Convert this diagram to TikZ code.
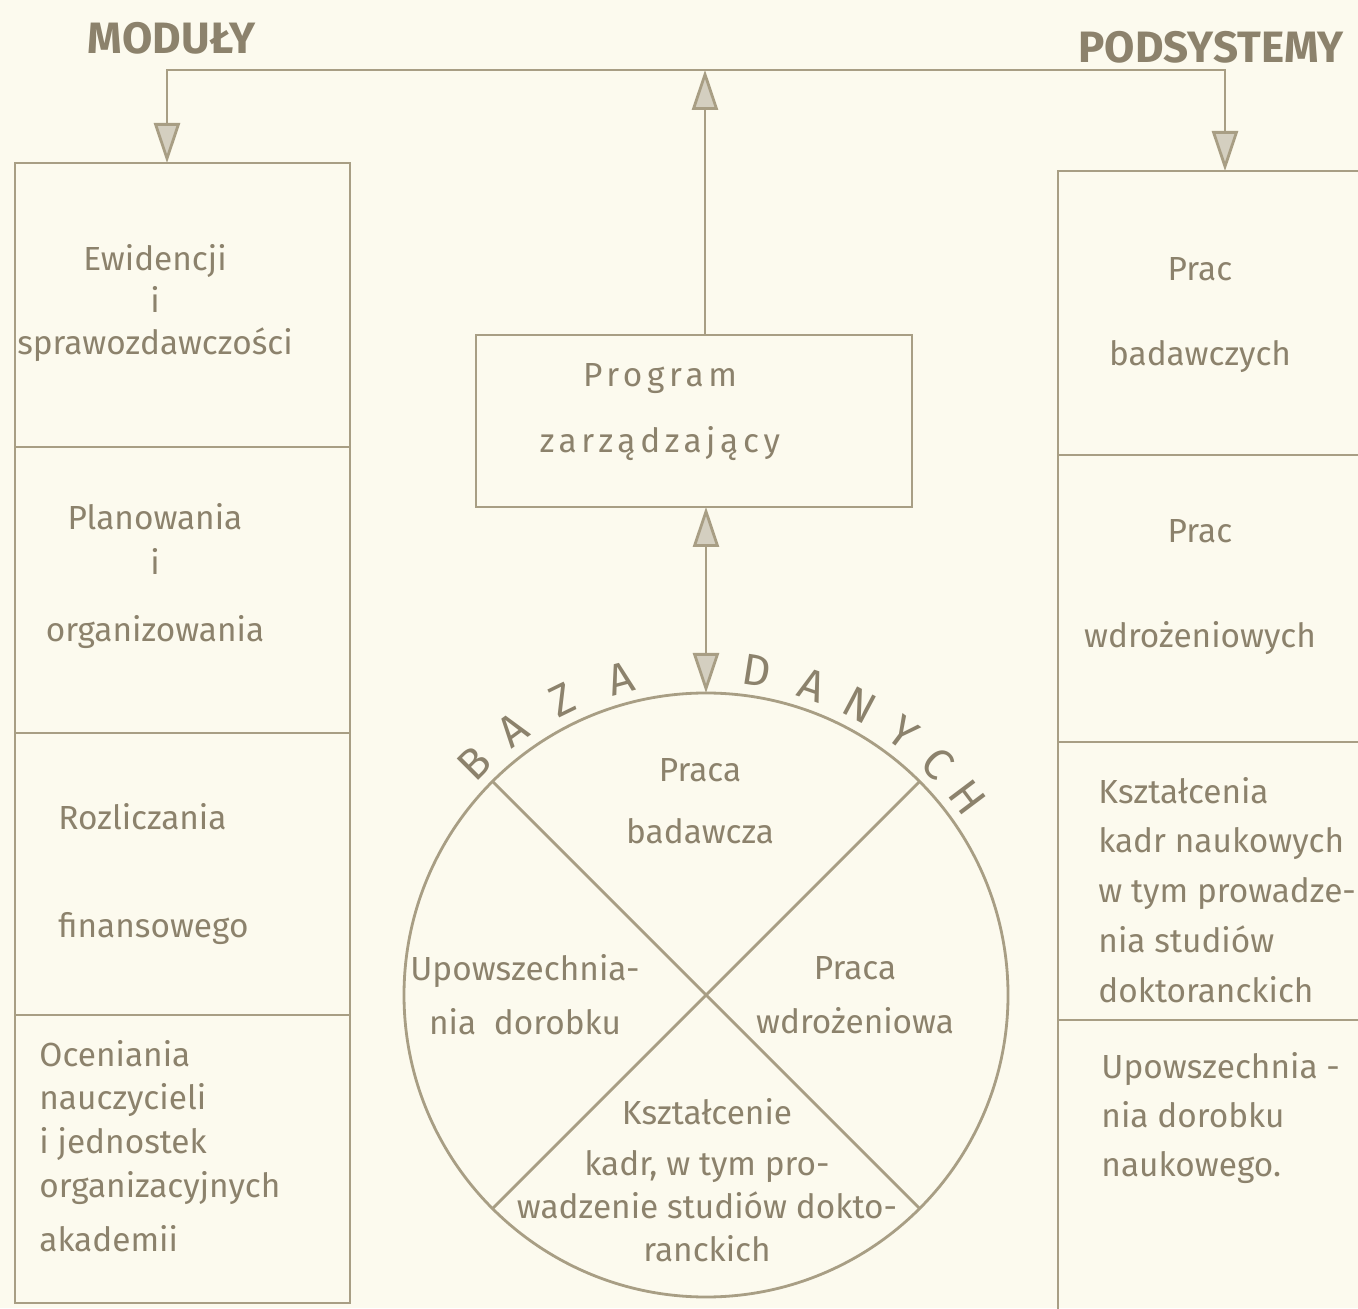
\documentclass[tikz,border=0pt]{standalone}
\usepackage{fontspec}
\setmainfont{Fira Sans}
\usetikzlibrary{arrows.meta,positioning}
\definecolor{papercolor}{RGB}{252,250,238}
\definecolor{linecolor}{RGB}{168,158,132}
\definecolor{inkcolor}{RGB}{140,130,108}
\definecolor{tipcolor}{RGB}{212,207,192}

\begin{document}
\begin{tikzpicture}[font=\fontsize{9.5}{12}\selectfont, text=inkcolor,
    >={Triangle[length=4mm,width=2.6mm,fill=tipcolor]},
    conn/.style={draw=linecolor, line width=0.8pt},
    box/.style={conn, rectangle, inner sep=0pt, outer sep=0pt},
    heading/.style={font=\fontsize{12.5}{14}\selectfont\bfseries},
    arcletter/.style={font=\fontsize{12.5}{14}\selectfont, inner sep=0pt}]
  \fill[papercolor] (0,0) rectangle (13.58,13.08);
  \useasboundingbox (0,0) rectangle (13.58,13.08);

  % naglowki
  \node[heading] (hMod) at (1.72,12.70) {MODUŁY};
  \node[heading] (hPod) at (12.11,12.61) {PODSYSTEMY};

  % moduly (lewa kolumna)
  \node[box, anchor=north west, minimum width=3.35cm, minimum height=2.84cm] (ewid) at (0.15,11.45) {};
  \node[box, below=0pt of ewid, minimum width=3.35cm, minimum height=2.86cm] (plan) {};
  \node[box, below=0pt of plan, minimum width=3.35cm, minimum height=2.82cm] (rozl) {};
  \node[box, below=0pt of rozl, minimum width=3.35cm, minimum height=2.88cm] (ocen) {};

  \node[align=center] (tEwid) at (1.55,10.05) {Ewidencji\\ i\\ sprawozdawczości};
  \node[align=center] (tPlan) at (1.55,7.32) {Planowania\\[1pt] i\\[7pt] organizowania};
  \node[align=left, anchor=west] (tRozl) at (0.46,4.34) {Rozliczania\\[18.6pt] finansowego};
  \node[align=left, anchor=west, font=\fontsize{9.5}{12.4}\selectfont] (tOcen) at (0.27,1.62)
    {Oceniania\\ nauczycieli\\ i jednostek\\ organizacyjnych\\[3pt] akademii};

  % podsystemy (prawa kolumna)
  \node[box, anchor=north west, minimum width=3.34cm, minimum height=2.84cm] (podB) at (10.58,11.37) {};
  \node[box, below=0pt of podB, minimum width=3.34cm, minimum height=2.87cm] (podW) {};
  \node[box, below=0pt of podW, minimum width=3.34cm, minimum height=2.78cm] (podK) {};
  \node[box, below=0pt of podK, minimum width=3.34cm, minimum height=3.2cm] (podU) {};

  \node[align=center] (tPodB) at (12.0,9.93) {Prac\\[12pt] badawczych};
  \node[align=center] (tPodW) at (12.0,7.21) {Prac\\[17.8pt] wdrożeniowych};
  \node[align=left, anchor=west, font=\fontsize{9.5}{14.2}\selectfont] (tPodK) at (10.86,4.18)
    {Kształcenia\\ kadr naukowych\\ w tym prowadze-\\ nia studiów\\ doktoranckich};
  \node[align=left, anchor=west, font=\fontsize{9.5}{14}\selectfont] (tPodU) at (10.89,1.90)
    {Upowszechnia -\\ nia dorobku\\ naukowego.};

  % program zarzadzajacy
  \node[box, minimum width=4.36cm, minimum height=1.72cm] (prog) at (6.94,8.87) {};
  \node[align=center, font=\fontsize{9.5}{12}\selectfont\addfontfeature{LetterSpace=14}] (tProg) at (6.6,8.96)
    {Program\\[7pt] zarządzający};

  % baza danych
  \node[conn, circle, inner sep=0pt, outer sep=0pt, minimum size=6.04cm] (db) at (7.06,3.13) {};
  \draw[conn] (db.135) -- (db.315);
  \draw[conn] (db.45) -- (db.225);
  \foreach \ang/\letter [count=\i] in {135/B,126/A,116/Z,105/A,81/D,71/A,62/N,53/Y,45/C,37/H}
    \node[arcletter, rotate=\ang-90] (arc\i) at ([shift={(\ang:3.28)}]db.center) {\letter};

  \node[align=center, font=\fontsize{9.5}{17.6}\selectfont] (qTop) at (7.0,5.07) {Praca\\ badawcza};
  \node[align=center, font=\fontsize{9.5}{15.3}\selectfont] (qLeft) at (5.25,3.13) {Upowszechnia-\\ nia\ \ dorobku};
  \node[align=center, font=\fontsize{9.5}{15.3}\selectfont] (qRight) at (8.55,3.13) {Praca\\ wdrożeniowa};
  \node[align=center, font=\fontsize{9.5}{12.2}\selectfont] (qBot) at (7.07,1.28)
    {Kształcenie\\[2.3pt] kadr, w tym pro-\\ wadzenie studiów dokto-\\ ranckich};

  % polaczenia
  \coordinate (hub) at (7.05,12.38);
  \draw[conn,->] (prog.north -| hub) -- (hub);
  \draw[conn,->] (hub) -| ([xshift=-1.55mm]ewid.north);
  \draw[conn,->] (hub) -| (podB.north);
  \draw[conn,<->] (db.north |- prog.south) -- (db.north);
\end{tikzpicture}
\end{document}
